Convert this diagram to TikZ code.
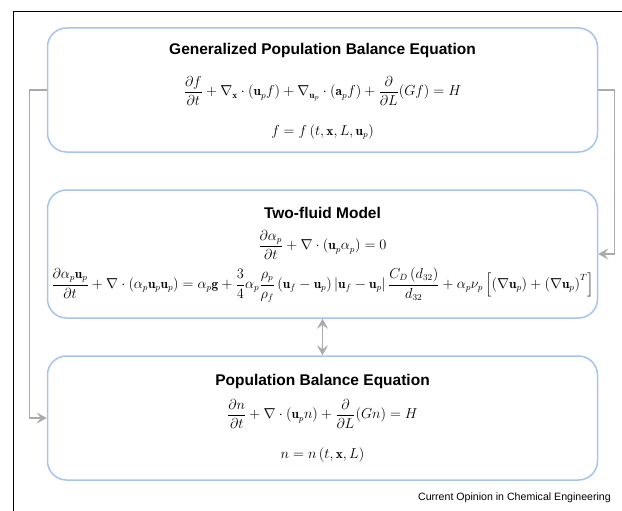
\documentclass[tikz,border=0pt]{standalone}
\usepackage{amsmath,amsfonts,amssymb}
\usepackage{fontspec}
\usepackage{xcolor}
\usepackage{tikz}
\usetikzlibrary{arrows.meta}
\newfontfamily\headfont{Liberation Sans}
\definecolor{boxblue}{RGB}{166,196,240}
\definecolor{linegray}{RGB}{170,170,170}
\tikzset{
  eqbox/.style={draw=boxblue,line width=1.5pt,rounded corners=19pt,minimum width=550pt,minimum height=124pt,inner sep=0pt},
  boxtitle/.style={font=\headfont\bfseries\fontsize{15.5}{18}\selectfont},
  eqn/.style={font=\fontsize{13.3}{16}\selectfont,inner sep=0pt},
  tip/.tip={Stealth[length=10pt,width=11pt,inset=4pt]},
  conn/.style={draw=linegray,line width=1.4pt,-tip}
}

\begin{document}
\begin{tikzpicture}[x=1pt,y=-1pt]
\useasboundingbox (0,0) rectangle (622,511);
\draw[line width=1pt] (13,511) -- (13,12) -- (622,12);

\node[eqbox] (gpbe) at (322.5,90) {};
\node[eqbox,minimum height=128pt] (tfm) at (322.5,254) {};
\node[eqbox] (pbe) at (322.5,418) {};

\node[boxtitle] at (322.5,50) {Generalized Population Balance Equation};
\node[eqn] at (322.5,91) {$\displaystyle \frac{\partial f}{\partial t}+\nabla_{\mathbf{x}}\cdot\left(\mathbf{u}_p f\right)+\nabla_{\mathbf{u}_p}\cdot\left(\mathbf{a}_p f\right)+\frac{\partial}{\partial L}(Gf)=H$};
\node[eqn] at (322.5,132) {$f=f\left(t,\mathbf{x},L,\mathbf{u}_p\right)$};

\node[boxtitle] at (322.5,213) {Two-fluid Model};
\node[eqn] at (322.5,245) {$\displaystyle \frac{\partial\alpha_p}{\partial t}+\nabla\cdot\left(\mathbf{u}_p\alpha_p\right)=0$};
\node[eqn] at (322.5,285) {$\displaystyle \frac{\partial\alpha_p\mathbf{u}_p}{\partial t}+\nabla\cdot\left(\alpha_p\mathbf{u}_p\mathbf{u}_p\right)=\alpha_p\mathbf{g}+\frac{3}{4}\alpha_p\frac{\rho_p}{\rho_f}\left(\mathbf{u}_f-\mathbf{u}_p\right)\left|\mathbf{u}_f-\mathbf{u}_p\right|\frac{C_D\left(d_{32}\right)}{d_{32}}+\alpha_p\nu_p\left[\left(\nabla\mathbf{u}_p\right)+\left(\nabla\mathbf{u}_p\right)^T\right]$};

\node[boxtitle] at (322.5,381) {Population Balance Equation};
\node[eqn] at (322.5,414) {$\displaystyle \frac{\partial n}{\partial t}+\nabla\cdot\left(\mathbf{u}_p n\right)+\frac{\partial}{\partial L}(Gn)=H$};
\node[eqn] at (322.5,455) {$n=n\left(t,\mathbf{x},L\right)$};

\node[font=\headfont\fontsize{10.6}{12}\selectfont,anchor=east,inner sep=0pt] at (611,498) {Current Opinion in Chemical Engineering};

\draw[conn] (gpbe.west) -- ++(-17,0) |- (pbe.west);
\draw[conn] (gpbe.east) -- ++(16,0) |- (tfm.east);
\draw[conn,tip-tip] (tfm.south) -- (pbe.north);
\end{tikzpicture}
\end{document}
